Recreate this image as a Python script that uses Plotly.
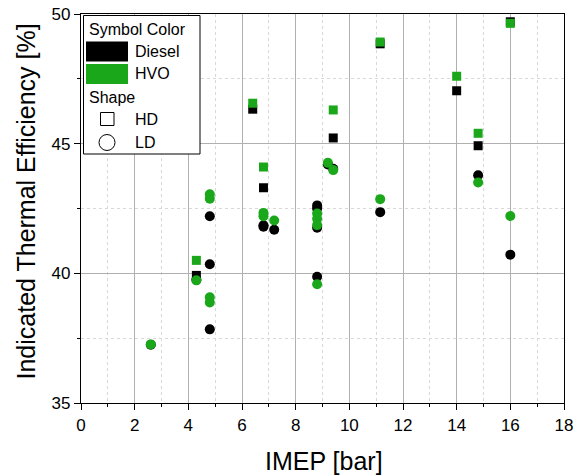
import plotly.graph_objects as go

# ---------------- data ----------------
hd_x = [4.3, 6.4, 6.8, 9.4, 11.15, 14.0, 14.8, 16.0]
diesel_hd_y = [39.92, 46.33, 43.3, 45.22, 48.85, 47.04, 44.92, 49.7]
hvo_hd_y = [40.5, 46.56, 44.1, 46.3, 48.92, 47.6, 45.4, 49.64]

diesel_ld_x = [2.6, 4.3, 4.8, 4.8, 4.8, 6.8, 6.8, 7.2, 8.8, 8.8, 8.8, 8.8, 9.2, 9.4, 11.15, 14.8, 16.0]
diesel_ld_y = [37.25, 39.75, 42.2, 40.35, 37.84, 41.85, 41.8, 41.68, 42.62, 42.5, 41.76, 39.87, 44.2, 44.03, 42.36, 43.78, 40.72]

hvo_ld_x = [2.6, 4.3, 4.8, 4.8, 4.8, 4.8, 6.8, 6.8, 7.2, 8.8, 8.8, 8.8, 8.8, 9.2, 9.4, 11.15, 14.8, 16.0]
hvo_ld_y = [37.26, 39.73, 43.05, 42.88, 39.08, 38.88, 42.33, 42.2, 42.04, 42.31, 42.1, 41.86, 39.58, 44.26, 43.98, 42.86, 43.5, 42.21]

BLACK = "#000000"
GREEN = "#1AA81A"
FONT = "Liberation Sans, Arial, sans-serif"

fig = go.Figure()
fig.add_trace(go.Scatter(x=hd_x, y=diesel_hd_y, mode="markers",
                         marker=dict(symbol="square", size=9, color=BLACK, line=dict(width=0)),
                         showlegend=False))
fig.add_trace(go.Scatter(x=diesel_ld_x, y=diesel_ld_y, mode="markers",
                         marker=dict(symbol="circle", size=10, color=BLACK, line=dict(width=0)),
                         showlegend=False))
fig.add_trace(go.Scatter(x=hd_x, y=hvo_hd_y, mode="markers",
                         marker=dict(symbol="square", size=9, color=GREEN, line=dict(width=0)),
                         showlegend=False))
fig.add_trace(go.Scatter(x=hvo_ld_x, y=hvo_ld_y, mode="markers",
                         marker=dict(symbol="circle", size=10, color=GREEN, line=dict(width=0)),
                         showlegend=False))

# plot-area pixel geometry
L, R, T, B = 81, 564, 14, 403
W, H = 579, 476


def px(xp):
    return (xp - L) / (R - L)


def py(yp):
    return (B - yp) / (B - T)


shapes = []
annotations = []
# legend box
shapes.append(dict(type="rect", xref="paper", yref="paper", x0=px(83.5), x1=px(200), y0=py(154), y1=py(15.5),
                   line=dict(color="black", width=1), fillcolor="white", layer="above"))
shapes.append(dict(type="rect", xref="paper", yref="paper", x0=px(86), x1=px(128), y0=py(61.5), y1=py(41.5),
                   line=dict(width=0), fillcolor=BLACK, layer="above"))
shapes.append(dict(type="rect", xref="paper", yref="paper", x0=px(86), x1=px(128), y0=py(84), y1=py(64),
                   line=dict(width=0), fillcolor=GREEN, layer="above"))
shapes.append(dict(type="rect", xref="paper", yref="paper", x0=px(100.5), x1=px(114), y0=py(125.5), y1=py(112.5),
                   line=dict(color="black", width=1), fillcolor="white", layer="above"))
shapes.append(dict(type="circle", xref="paper", yref="paper", x0=px(99), x1=px(115), y0=py(150.5), y1=py(134.5),
                   line=dict(color="black", width=1), fillcolor="white", layer="above"))

for text, xl, yc in [("Symbol Color", 86.5, 29.5), ("Diesel", 132.5, 51.5), ("HVO", 132.5, 73.5),
                     ("Shape", 86.5, 97.5), ("HD", 132.5, 119), ("LD", 132.5, 142.5)]:
    annotations.append(dict(text=text, xref="paper", yref="paper", x=px(xl), y=py(yc), xanchor="left",
                            yanchor="middle", showarrow=False, font=dict(family=FONT, size=16, color="black")))

# axis titles
annotations.append(dict(text="IMEP [bar]", xref="paper", yref="paper", x=px(323.5), y=py(461),
                        xanchor="center", yanchor="middle", showarrow=False,
                        font=dict(family=FONT, size=25, color="black")))
annotations.append(dict(text="Indicated Thermal Efficiency [%]", xref="paper", yref="paper", x=px(25),
                        y=py(201.5), xanchor="center", yanchor="middle", textangle=-90, showarrow=False,
                        font=dict(family=FONT, size=25, color="black")))

axis_common = dict(
    showline=True, linecolor="black", linewidth=1.2, mirror=True,
    ticks="outside", ticklen=6, tickcolor="black", tickwidth=1,
    showgrid=True, gridcolor="#B0B0B0", gridwidth=1,
    zeroline=False, automargin=False,
    tickfont=dict(family=FONT, size=17, color="black"),
)

fig.update_layout(
    width=W, height=H,
    margin=dict(l=L, r=W - R, t=T, b=H - B),
    paper_bgcolor="white", plot_bgcolor="white",
    showlegend=False,
    shapes=shapes, annotations=annotations,
    xaxis=dict(range=[0, 18], dtick=2, tick0=0,
               minor=dict(dtick=1, ticks="outside", ticklen=3, tickcolor="black", showgrid=True,
                          gridcolor="#D8D8D8", griddash="dot", gridwidth=1),
               **axis_common),
    yaxis=dict(range=[35, 50], dtick=5, tick0=35,
               minor=dict(dtick=2.5, ticks="outside", ticklen=3, tickcolor="black", showgrid=True,
                          gridcolor="#D8D8D8", griddash="dot", gridwidth=1),
               **axis_common),
)

fig.write_html("out.html")
